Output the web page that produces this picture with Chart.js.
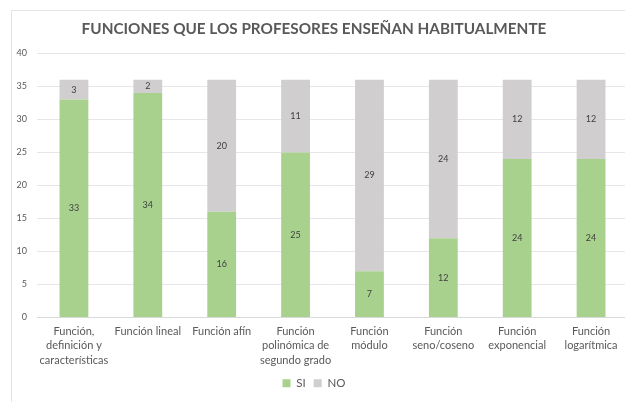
<!DOCTYPE html>
<html>
<head>
<meta charset="utf-8">
<script src="https://cdn.jsdelivr.net/npm/chart.js@4/dist/chart.umd.min.js"></script>
<style>
html,body{margin:0;padding:0;overflow:hidden;background:#fff;}
#wrap{position:absolute;left:0;top:0;width:640px;height:402px;}
</style>
</head>
<body>
<div id="wrap"><canvas id="c" width="640" height="402"></canvas></div>
<script>
const categories = [
  ["Función,", "definición y", "características"],
  ["Función lineal"],
  ["Función afín"],
  ["Función", "polinómica de", "segundo grado"],
  ["Función", "módulo"],
  ["Función", "seno/coseno"],
  ["Función", "exponencial"],
  ["Función", "logarítmica"]
];
const siValues = [33, 34, 16, 25, 7, 12, 24, 24];
const noValues = [3, 2, 20, 11, 29, 24, 12, 12];
const yTicks = [0, 5, 10, 15, 20, 25, 30, 35, 40];
const titleText = "FUNCIONES QUE LOS PROFESORES ENSEÑAN HABITUALMENTE";

const FONT = "Lato, 'Open Sans', sans-serif";

const frame = {
  id: 'frame',
  beforeDraw(chart) {
    const ctx = chart.ctx;
    ctx.save();
    ctx.fillStyle = '#fff';
    ctx.fillRect(0, 0, chart.width, chart.height);
    ctx.strokeStyle = '#e3e3e8';
    ctx.lineWidth = 1;
    ctx.strokeRect(11.5, 10.5, chart.width + 20, chart.height + 20);
    ctx.restore();
  }
};

const labels = {
  id: 'labels',
  afterDatasetsDraw(chart) {
    const ctx = chart.ctx;
    ctx.save();
    ctx.font = "9px " + FONT;
    ctx.fillStyle = '#404040';
    ctx.textAlign = 'center';
    ctx.textBaseline = 'middle';
    chart.data.datasets.forEach((ds, i) => {
      const meta = chart.getDatasetMeta(i);
      meta.data.forEach((bar, j) => {
        const v = ds.data[j];
        const y = (bar.y + bar.base) / 2;
        ctx.fillText(String(v), bar.x, y);
      });
    });
    ctx.restore();
  }
};

new Chart(document.getElementById('c'), {
  type: 'bar',
  data: {
    labels: categories,
    datasets: [
      { label: 'SI', data: siValues, backgroundColor: '#a9d18e', borderWidth: 0 },
      { label: 'NO', data: noValues, backgroundColor: '#d0cece', borderWidth: 0 }
    ]
  },
  options: {
    responsive: false,
    animation: false,
    devicePixelRatio: 1,
    layout: { padding: { left: 0, right: 12, top: 20, bottom: 3 } },
    datasets: { bar: { barPercentage: 0.39, categoryPercentage: 1 } },
    plugins: {
      title: {
        display: true,
        text: titleText,
        color: '#595959',
        font: { family: FONT, size: 15.3, weight: 'bold' },
        padding: { top: 0, bottom: 15 }
      },
      legend: {
        display: true,
        position: 'bottom',
        labels: {
          color: '#595959',
          font: { family: FONT, size: 11.5 },
          boxWidth: 8,
          boxHeight: 8,
          padding: 8
        }
      },
      tooltip: { enabled: false }
    },
    scales: {
      x: {
        stacked: true,
        grid: { display: false, drawTicks: false },
        border: { display: true, color: '#d9d9d9' },
        afterFit(axis) { axis.height = 52; },
        ticks: {
          color: '#595959',
          font: { family: FONT, size: 11, lineHeight: 1.3 },
          padding: 7,
          maxRotation: 0,
          autoSkip: false
        }
      },
      y: {
        stacked: true,
        min: 0,
        max: 40,
        afterBuildTicks(axis) { axis.ticks = yTicks.map(v => ({ value: v })); },
        afterFit(axis) { axis.width = 37; },
        grid: { color: '#e6e6ea', drawTicks: false },
        border: { display: false },
        ticks: {
          color: '#595959',
          font: { family: FONT, size: 9 },
          padding: 10
        }
      }
    }
  },
  plugins: [frame, labels]
});
</script>
</body>
</html>
